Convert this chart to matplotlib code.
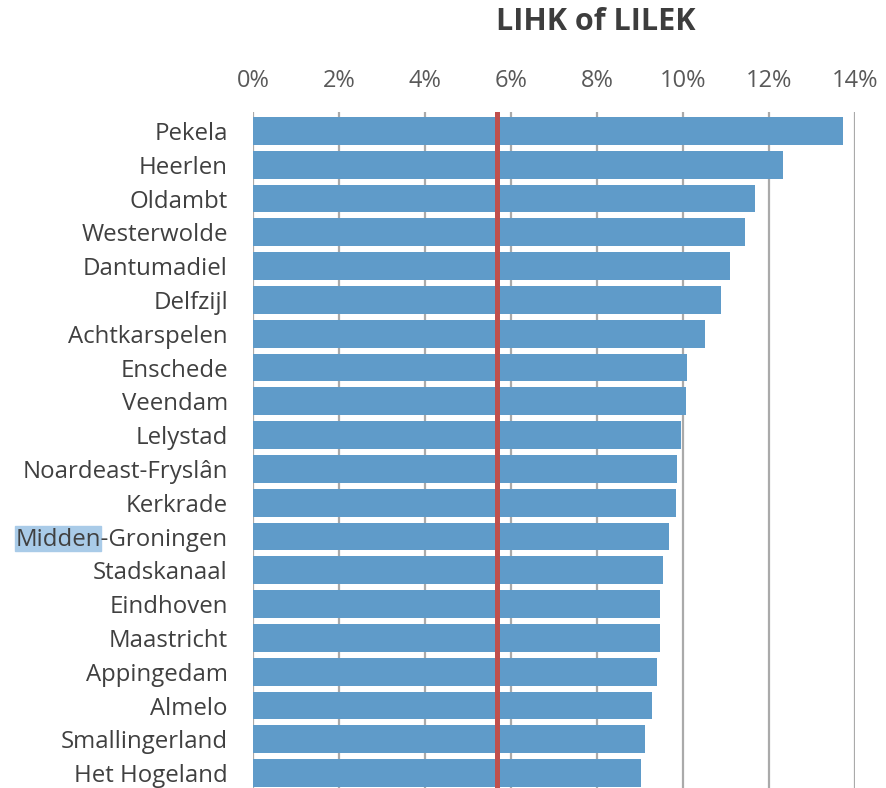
import matplotlib.pyplot as plt
import matplotlib.patches as mpatches
import numpy as np

plt.rcParams['font.family'] = ['Open Sans', 'DejaVu Sans']

gemeenten = ['Pekela', 'Heerlen', 'Oldambt', 'Westerwolde', 'Dantumadiel', 'Delfzijl',
             'Achtkarspelen', 'Enschede', 'Veendam', 'Lelystad', 'Noardeast-Fryslân',
             'Kerkrade', 'Midden-Groningen', 'Stadskanaal', 'Eindhoven', 'Maastricht',
             'Appingedam', 'Almelo', 'Smallingerland', 'Het Hogeland']
aandeel = [13.72, 12.33, 11.67, 11.44, 11.09, 10.88, 10.51, 10.09, 10.07, 9.95,
           9.86, 9.84, 9.67, 9.54, 9.47, 9.47, 9.40, 9.29, 9.11, 9.02]
gemiddelde = 5.67
xticks = [0, 2, 4, 6, 8, 10, 12, 14]

fig = plt.figure(figsize=(8.87, 7.88), dpi=100)
ax = fig.add_axes([253/887, 0, (855-253)/887, 1 - 112/788])

y = np.arange(len(gemeenten))
ax.barh(y, aandeel, height=0.82, color='#5f9bc9', zorder=2)
ax.axvline(gemiddelde, color='#c0504d', lw=3.6, zorder=3)

ax.set_xlim(0, 14)
ax.set_ylim(19.44, -0.56)
ax.set_xticks(xticks)
ax.set_xticklabels([f'{v}%' for v in xticks], fontsize=17, color='#595959')
ax.xaxis.tick_top()
ax.set_yticks(y)
ax.set_yticklabels(gemeenten, fontsize=17.3, color='#404040')
ax.tick_params(length=0)
ax.tick_params(axis='y', pad=18)
ax.tick_params(axis='x', pad=14)
ax.grid(axis='x', color='#aaaaaa', lw=1.6, zorder=0)
for s in ax.spines.values():
    s.set_visible(False)

fig.text(596/887, 1 - 22/788, 'LIHK of LILEK', fontsize=22, fontweight='bold',
         color='#3d3d3d', ha='center', va='center')

# selectie-markering achter "Midden"
fig.patches.append(mpatches.Rectangle((15/887, 1 - 551/788), 86/887, 25/788,
                                      transform=fig.transFigure, color='#a9cbe8',
                                      zorder=-1))

plt.savefig('out.png', dpi=100)
